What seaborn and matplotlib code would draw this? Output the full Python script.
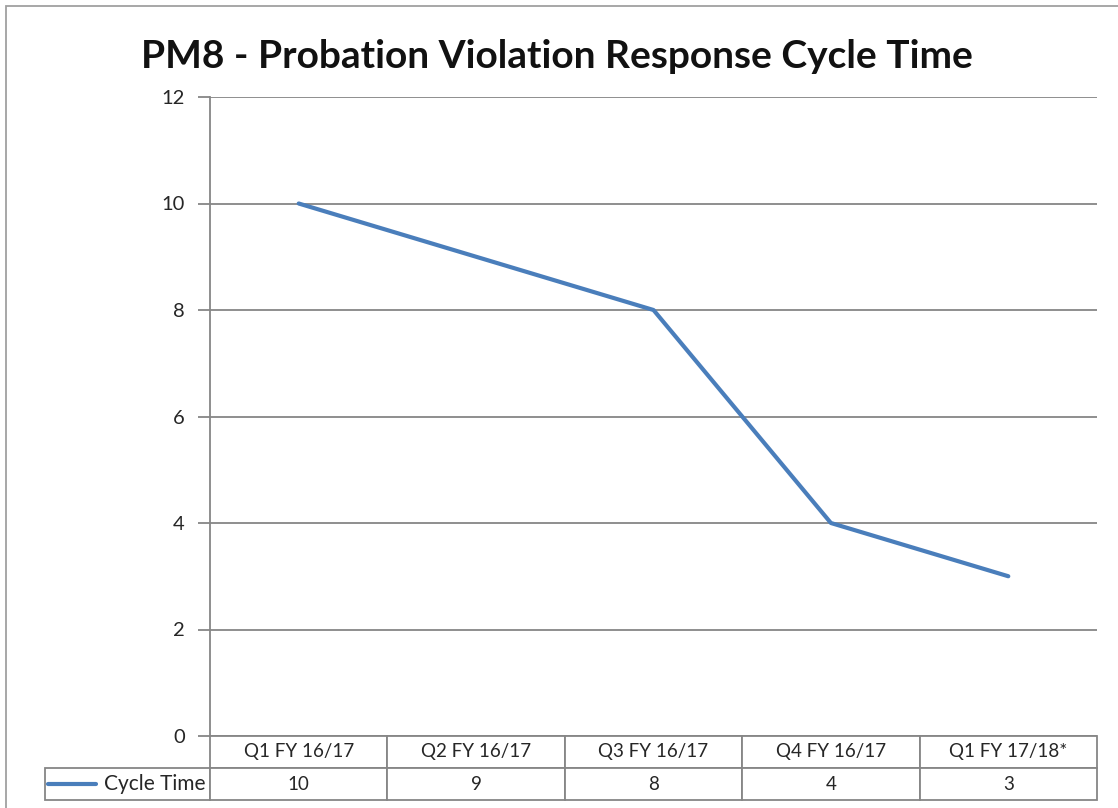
import matplotlib
matplotlib.use("Agg")
import matplotlib.pyplot as plt
import matplotlib.patches as mpatches
import seaborn as sns
import pandas as pd

quarters = ["Q1 FY 16/17", "Q2 FY 16/17", "Q3 FY 16/17", "Q4 FY 16/17", "Q1 FY 17/18*"]
cycle_time = [10, 9, 8, 4, 3]
series_name = "Cycle Time"
title = "PM8 - Probation Violation Response Cycle Time"

sns.set_style("white")
plt.rcParams["font.family"] = ["Lato", "DejaVu Sans"]

W, H = 1118, 808
fig = plt.figure(figsize=(W / 100, H / 100), dpi=100)
ax = fig.add_axes([210 / W, (H - 736) / H, 887 / W, 639 / H])

line_color = "#4a7ebb"
grid_color = "#868686"

df = pd.DataFrame({"quarter": quarters, "value": cycle_time})
sns.lineplot(data=df, x="quarter", y="value", color=line_color, linewidth=3.0,
             sort=False, ax=ax, solid_capstyle="round")

ax.set_xlim(-0.5, len(quarters) - 0.5)
ax.set_ylim(0, 12)
ax.set_yticks(range(0, 13, 2))
ax.set_xticks([])
ax.set_xlabel("")
ax.set_ylabel("")
ax.yaxis.grid(True, color=grid_color, linewidth=1.3)
ax.set_axisbelow(True)
for side in ["top", "right", "bottom"]:
    ax.spines[side].set_visible(False)
ax.spines["left"].set_color(grid_color)
ax.spines["left"].set_linewidth(1.3)
ax.tick_params(axis="y", left=True, length=9, width=1.3, color=grid_color,
               labelsize=14.5, labelcolor="#262626", pad=9)

# data table under the plot, Excel style
label_w = 165 / 887
tbl_h = 64 / 639
cells = [[""] + quarters, [series_name] + [str(v) for v in cycle_time]]
tbl = ax.table(cellText=cells, cellLoc="center",
               colWidths=[label_w] + [1 / len(quarters)] * len(quarters),
               bbox=[-label_w, -tbl_h, 1 + label_w, tbl_h])
tbl.auto_set_font_size(False)
tbl.set_fontsize(13.5)
for (r, c), cell in tbl.get_celld().items():
    cell.set_edgecolor(grid_color)
    cell.set_linewidth(1.3)
    cell.get_text().set_color("#262626")
tbl[0, 0].visible_edges = ""
lab = tbl[1, 0]
lab.PAD = 0.03
lab._loc = "right"
lab.get_text().set_horizontalalignment("right")
lab.get_text().set_fontsize(15)

# legend key inside the label cell
ax.plot([-0.1826, -0.1285], [-0.075, -0.075], transform=ax.transAxes,
        color=line_color, linewidth=3.0, clip_on=False, solid_capstyle="round")

fig.text(0.4985, 1 - 68 / H, title, ha="center", va="baseline",
         fontsize=28, fontweight="bold", color="#111111")

# outer chart frame (cut by the image edges on right and bottom)
fig.patches.append(mpatches.Rectangle((6 / W, -0.1), 2, 1.1 - 6 / H,
                                      transform=fig.transFigure, fill=False,
                                      edgecolor="#a0a0a0", linewidth=1.3))

fig.savefig("out.png", dpi=100)
